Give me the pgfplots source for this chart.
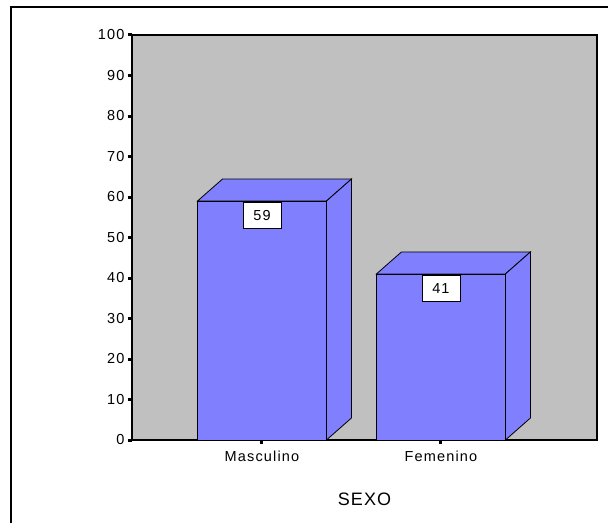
\documentclass[border=0pt]{standalone}
\usepackage{fontspec}
\setmainfont{Liberation Sans}
\newfontfamily\labfont[LetterSpace=8]{Liberation Sans}
\newfontfamily\titfont[LetterSpace=6]{Liberation Sans}
\usepackage{pgfplots}
\usepackage{pgfplotstable}
\pgfplotsset{compat=1.18}
\definecolor{barblue}{RGB}{128,128,255}
\definecolor{axisgrey}{RGB}{192,192,192}
\pgfplotstableread{
x y
0 59
1 41
}\datatable
\begin{document}
\begin{tikzpicture}[x=1pt,y=1pt]
\useasboundingbox (0,0) rectangle (608,523);
\draw[line width=2pt] (11,0) -- (11,516) -- (608,516);
\begin{axis}[
  at={(132pt,83pt)}, anchor=south west,
  width=465pt, height=405pt, scale only axis,
  xmin=-0.726, xmax=1.872, ymin=0, ymax=100,
  axis background/.style={fill=axisgrey},
  axis line style={black, line width=1.3pt},
  ytick={0,10,...,100},
  xtick={0,1}, xticklabels={Masculino,Femenino},
  tick pos=left, tick align=outside,
  major tick length=4pt,
  tick style={line width=3pt, black},
  /pgf/number format/assume math mode=true,
  ticklabel style={font=\labfont\fontsize{14.5}{16}\selectfont},
  xticklabel style={yshift=-3pt},
  yticklabel style={xshift=0pt},
  xlabel={SEXO},
  xlabel style={at={(axis description cs:0.5,-0.146)}, anchor=center, font=\titfont\fontsize{18}{20}\selectfont},
]
% top faces
\addplot[fill=barblue, draw=black, line width=0.8pt] coordinates {(-0.3603,59) (0.3603,59) (0.5,64.43) (-0.2206,64.43)} -- cycle;
\addplot[fill=barblue, draw=black, line width=0.8pt] coordinates {(0.6397,41) (1.3603,41) (1.5,46.43) (0.7794,46.43)} -- cycle;
% side faces
\addplot[fill=barblue, draw=black, line width=0.8pt] coordinates {(0.3603,0) (0.5,5.43) (0.5,64.43) (0.3603,59)} -- cycle;
\addplot[fill=barblue, draw=black, line width=0.8pt] coordinates {(1.3603,0) (1.5,5.43) (1.5,46.43) (1.3603,41)} -- cycle;
% front faces
\addplot[ybar, bar width=0.7206, fill=barblue, draw=black, line width=0.8pt,
  nodes near coords,
  every node near coord/.append style={anchor=north, fill=white, draw=black, line width=0.8pt,
    minimum width=38pt, minimum height=26pt, inner sep=0pt, yshift=-1pt,
    font=\labfont\fontsize{14.5}{16}\selectfont}
] table[x=x,y=y] {\datatable};
\end{axis}
\end{tikzpicture}
\end{document}
